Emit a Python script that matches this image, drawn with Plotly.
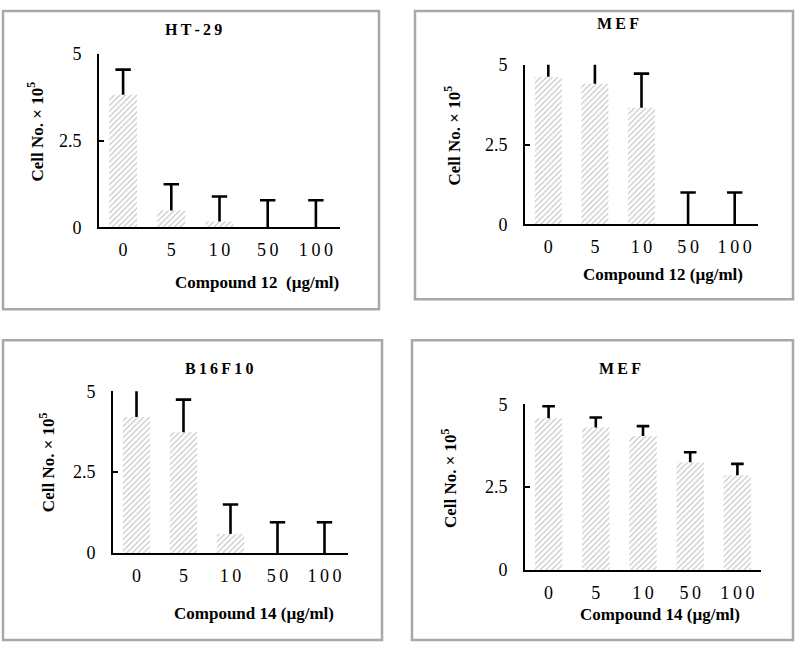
import plotly.graph_objects as go

W, H = 796, 651

# ---------------- data ----------------
doses = ["0", "5", "10", "50", "100"]
dose_labels = ["0", "5", "1\u20090", "5\u20090", "1\u20090\u20090"]

ht29_mean = [3.82, 0.49, 0.17, 0.0, 0.0]
ht29_sd = [0.72, 0.75, 0.72, 0.78, 0.78]

mef12_mean = [4.62, 4.40, 3.65, 0.0, 0.0]
mef12_sd = [0.60, 0.75, 1.07, 1.00, 1.00]

b16_mean = [4.20, 3.73, 0.59, 0.0, 0.0]
b16_sd = [0.90, 1.01, 0.91, 0.95, 0.95]

mef14_mean = [4.58, 4.30, 4.04, 3.25, 2.86]
mef14_sd = [0.36, 0.30, 0.30, 0.30, 0.34]

y_ticks = [0, 2.5, 5]
y_ticktext = ["0", "2.5", "5"]

panels = [
    dict(title="H\u2009T\u2009-\u20092\u20099", xtitle="Compound 12  (µg/ml)", mean=ht29_mean, sd=ht29_sd),
    dict(title="M\u2009E\u2009F", xtitle="Compound 12 (µg/ml)", mean=mef12_mean, sd=mef12_sd),
    dict(title="B\u20091\u20096\u2009F\u20091\u20090", xtitle="Compound 14 (µg/ml)", mean=b16_mean, sd=b16_sd),
    dict(title="M\u2009E\u2009F", xtitle="Compound 14 (µg/ml)", mean=mef14_mean, sd=mef14_sd),
]

# ---------------- layout (target pixels in the final picture) ----------------
plot_px = [(99, 340, 53, 227), (525, 758, 64, 224), (113, 348, 391, 553), (525, 761, 404, 570)]
border_px = [(3, 1, 379, 309), (415, 1, 793, 299), (3, 340, 382, 643), (412, 340, 793, 648)]
title_px = [(193, 29), (618, 23), (219, 368), (620, 368)]
xtitle_px = [(257, 282), (663, 274), (254, 614), (660, 615)]
ytitle_px = [(35, 131), (452, 135), (47, 462), (449, 478)]
cap_size = [11, 11, 11, 9]

# the page is photographed with the figure occupying rows ~9..641
OFF, SCALE = 9.3, 0.9705


def px(x):
    return x / W


def py(y):
    yy = (y - OFF) / SCALE
    yy = min(max(yy, 1.0), H - 1.0)
    return 1 - yy / H


SERIF = "Liberation Serif, Times New Roman, serif"

fig = go.Figure()
annotations = []
shapes = []
layout_axes = {}

for i, p in enumerate(panels):
    n = "" if i == 0 else str(i + 1)
    fig.add_trace(go.Bar(
        x=doses, y=p["mean"],
        xaxis="x" + n, yaxis="y" + n,
        width=0.58,
        marker=dict(color="white", line=dict(width=0),
                    pattern=dict(shape="/", fgcolor="#7c7c7c", bgcolor="#ffffff",
                                 size=4, solidity=0.28)),
        error_y=dict(type="data", array=p["sd"], arrayminus=[0] * len(p["sd"]),
                     symmetric=False, color="black", thickness=2.6, width=0),
        showlegend=False, hoverinfo="skip",
    ))
    # caps at the top end of each error bar
    tops = [m + s for m, s in zip(p["mean"], p["sd"])]
    fig.add_trace(go.Scatter(
        x=doses, y=tops, xaxis="x" + n, yaxis="y" + n, mode="markers",
        marker=dict(symbol="line-ew", size=cap_size[i], color="black",
                    line=dict(color="black", width=2.6)),
        showlegend=False, hoverinfo="skip", cliponaxis=True,
    ))
    x0, x1, y0, y1 = plot_px[i]
    layout_axes["xaxis" + n] = dict(
        domain=[px(x0), px(x1)], anchor="y" + n, type="category",
        range=[-0.5, 4.5], showline=True, linecolor="black", linewidth=2,
        ticks="", showgrid=False, zeroline=False,
        tickvals=doses, ticktext=dose_labels,
        tickfont=dict(family=SERIF, size=18, color="black"),
        ticklabelstandoff=5,
    )
    layout_axes["yaxis" + n] = dict(
        domain=[py(y1), py(y0)], anchor="x" + n,
        range=[0, 5], tickvals=y_ticks, ticktext=y_ticktext,
        showline=True, linecolor="black", linewidth=2,
        ticks="inside", ticklen=5, tickwidth=2, tickcolor="black",
        showgrid=False, zeroline=False,
        tickfont=dict(family=SERIF, size=18, color="black"),
        ticklabelstandoff=12,
    )
    bx0, by0, bx1, by1 = border_px[i]
    shapes.append(dict(type="rect", xref="paper", yref="paper",
                       x0=px(bx0), x1=px(bx1), y0=py(by1), y1=py(by0),
                       line=dict(color="#a8a8a8", width=2.5), layer="below"))
    tx, ty = title_px[i]
    annotations.append(dict(text="<b>%s</b>" % p["title"], x=px(tx), y=py(ty),
                            xref="paper", yref="paper", showarrow=False,
                            xanchor="center", yanchor="middle",
                            font=dict(family=SERIF, size=16, color="black")))
    tx, ty = xtitle_px[i]
    annotations.append(dict(text="<b>%s</b>" % p["xtitle"], x=px(tx), y=py(ty),
                            xref="paper", yref="paper", showarrow=False,
                            xanchor="center", yanchor="middle",
                            font=dict(family=SERIF, size=17, color="black")))
    tx, ty = ytitle_px[i]
    annotations.append(dict(text="<b>Cell No. × 10<sup>5</sup></b>", x=px(tx), y=py(ty),
                            xref="paper", yref="paper", showarrow=False, textangle=-90,
                            xanchor="center", yanchor="middle",
                            font=dict(family=SERIF, size=17, color="black")))

fig.update_layout(
    width=W, height=H,
    margin=dict(l=0, r=0, t=0, b=0),
    paper_bgcolor="white", plot_bgcolor="rgba(0,0,0,0)",
    annotations=annotations, shapes=shapes,
    **layout_axes,
)

fig.write_html("out.html")
